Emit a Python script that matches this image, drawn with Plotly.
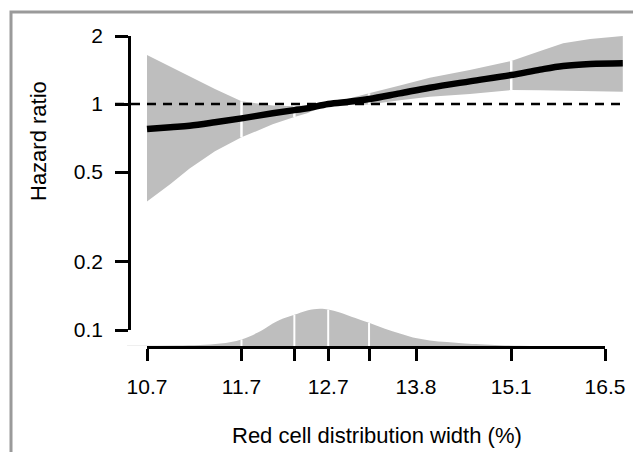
import math
import plotly.graph_objects as go

# ---- data ----
rdw_grid = [10.7, 10.94, 11.14, 11.41, 11.7, 12.05, 12.3, 12.45, 12.7, 12.97, 13.2,
            13.59, 13.98, 14.52, 15.1, 15.52, 15.86, 16.27, 16.78]
hr = [0.775, 0.79, 0.802, 0.83, 0.864, 0.91, 0.94, 0.957, 1.0, 1.026, 1.052,
      1.115, 1.181, 1.26, 1.344, 1.42, 1.473, 1.503, 1.514]
hr_upper = [1.648, 1.465, 1.321, 1.165, 1.028, 0.985, 0.978, 0.99, 1.0, 1.063, 1.115,
            1.207, 1.307, 1.414, 1.55, 1.716, 1.856, 1.939, 2.0]
hr_lower = [0.37, 0.443, 0.519, 0.618, 0.712, 0.813, 0.876, 0.91, 1.0, 0.99, 0.995,
            1.04, 1.077, 1.107, 1.153, 1.15, 1.145, 1.142, 1.133]

dens_rdw = [10.5, 11.0, 11.25, 11.47, 11.7, 11.91, 12.02, 12.13, 12.3, 12.45, 12.6, 12.7,
            12.84, 13.03, 13.2, 13.4, 13.59, 13.76, 13.98, 14.21, 14.45, 14.66, 14.94,
            15.22, 15.6]
dens = [0.008, 0.013, 0.025, 0.06, 0.165, 0.37, 0.52, 0.65, 0.78, 0.89, 0.93, 0.91,
        0.84, 0.70, 0.58, 0.43, 0.31, 0.21, 0.14, 0.10, 0.063, 0.043, 0.02, 0.008, 0.001]

quantiles = [11.7, 12.3, 12.7, 13.2, 15.1]

x_tickvals = [10.7, 11.7, 12.3, 12.7, 13.2, 13.8, 15.1, 16.5]
x_ticktext = ["10.7", "11.7", "", "12.7", "", "13.8", "15.1", "16.5"]
y_tickvals = [0.1, 0.2, 0.5, 1, 2]
y_ticktext = ["0.1", "0.2", "0.5", "1", "2"]
ref_hr = 1

# ---- layout geometry (screen pixels; page body has an 8px margin) ----
OFF = 8
W_PX, H_PX = 641 - OFF, 460 - 2 * OFF
ML, MT = 115 - OFF, 36 - OFF
W, H = 510, 310
MR = W_PX - ML - W
MB = H_PX - MT - H
BASE = 346  # screen y of the x axis line


def px(xs):
    return (xs - 115) / W


def py(ys):
    return (BASE - ys) / H


d0 = px(147)
d1 = px(605)
r0 = math.log10(x_tickvals[0])
r1 = math.log10(x_tickvals[-1])
K = W * (d1 - d0) / (r1 - r0)
main_range = [r0 - d0 * W / K, r1 + (1 - d1) * W / K]

GRAY = "#bebebe"
FONT = "Liberation Sans, Arial, sans-serif"

fig = go.Figure()

# CI band
fig.add_trace(go.Scatter(
    x=rdw_grid + rdw_grid[::-1], y=hr_upper + hr_lower[::-1],
    fill="toself", fillcolor=GRAY, line=dict(width=0), mode="lines",
    xaxis="x", yaxis="y", hoverinfo="skip"))

# white separators in band
bx, by = [], []
for q in quantiles:
    if q in rdw_grid:
        i = rdw_grid.index(q)
        bx += [q, q, None]
        by += [hr_lower[i], hr_upper[i], None]
fig.add_trace(go.Scatter(x=bx, y=by, mode="lines",
                         line=dict(color="white", width=2.5),
                         xaxis="x", yaxis="y", hoverinfo="skip"))

# hazard ratio curve
fig.add_trace(go.Scatter(x=rdw_grid, y=hr, mode="lines",
                         line=dict(color="black", width=6.5, shape="spline"),
                         xaxis="x", yaxis="y"))

# density
fig.add_trace(go.Scatter(x=dens_rdw, y=dens, fill="tozeroy", fillcolor=GRAY,
                         mode="lines", line=dict(width=0, shape="spline"),
                         xaxis="x", yaxis="y2", hoverinfo="skip"))
dx, dy = [], []
for q in quantiles:
    if q in dens_rdw:
        i = dens_rdw.index(q)
        dx += [q, q, None]
        dy += [0, dens[i], None]
fig.add_trace(go.Scatter(x=dx, y=dy, mode="lines",
                         line=dict(color="white", width=2),
                         xaxis="x", yaxis="y2", hoverinfo="skip"))

# dummy trace to make x2 axis exist
fig.add_trace(go.Scatter(x=[x_tickvals[0]], y=[0], mode="markers",
                         marker=dict(opacity=0), xaxis="x2", yaxis="y2",
                         hoverinfo="skip"))

fig.update_layout(
    width=W_PX, height=H_PX, autosize=False,
    margin=dict(l=ML, r=MR, t=MT, b=MB, pad=0, autoexpand=False),
    paper_bgcolor="white", plot_bgcolor="rgba(0,0,0,0)",
    showlegend=False,
    font=dict(family=FONT, color="black", size=21),
    xaxis=dict(type="log", domain=[0, 1], range=main_range, visible=False,
               anchor="y", automargin=False),
    xaxis2=dict(type="log", domain=[d0, d1], range=[r0, r1], anchor="y2",
                showline=True, linewidth=2.5, linecolor="black",
                ticks="outside", ticklen=12, tickwidth=2.5, tickcolor="black",
                tickvals=x_tickvals, ticktext=x_ticktext,
                ticklabelstandoff=8, automargin=False,
                tickfont=dict(size=21, family=FONT, color="black"),
                showgrid=False, zeroline=False),
    yaxis=dict(type="log", domain=[py(330), 1],
               range=[math.log10(y_tickvals[0]), math.log10(y_tickvals[-1])],
               anchor="free", position=px(129), automargin=False,
               showline=True, linewidth=2.5, linecolor="black",
               ticks="outside", ticklen=13, tickwidth=2.5, tickcolor="black",
               tickvals=y_tickvals, ticktext=y_ticktext,
               ticklabelstandoff=8,
               tickfont=dict(size=21, family=FONT, color="black"),
               showgrid=False, zeroline=False),
    yaxis2=dict(domain=[0, 40 / H], range=[0, 1], visible=False, anchor="x2",
                automargin=False),
    shapes=[
        dict(type="line", xref="x domain", yref="y",
             x0=0, x1=px(620), y0=ref_hr, y1=ref_hr,
             line=dict(color="black", width=2.5, dash="9px,7px"), layer="above"),
        dict(type="rect", xref="paper", yref="paper",
             x0=px(11), x1=px(637),
             y0=py(480), y1=py(12),
             line=dict(color="#9a9a9a", width=3), fillcolor="rgba(0,0,0,0)",
             layer="below"),
    ],
    annotations=[
        dict(text="Hazard ratio", xref="paper", yref="paper",
             x=px(38), y=py(141), textangle=-90,
             showarrow=False, xanchor="center", yanchor="middle",
             font=dict(size=22, family=FONT, color="black")),
        dict(text="Red cell distribution width (%)", xref="paper", yref="paper",
             x=px(377), y=py(435),
             showarrow=False, xanchor="center", yanchor="middle",
             font=dict(size=22, family=FONT, color="black")),
    ],
)

fig.write_html("out.html", config={"responsive": False})
